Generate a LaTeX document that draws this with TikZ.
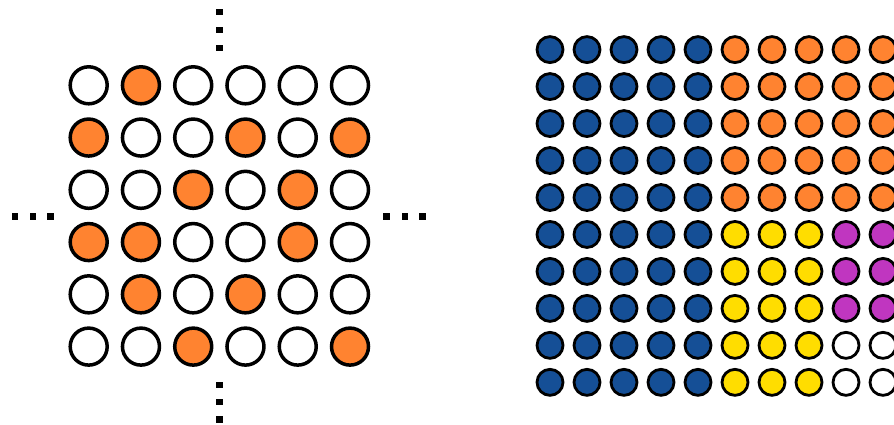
\documentclass[tikz,border=0pt]{standalone}
\definecolor{dorange}{HTML}{FF8330}
\definecolor{dblue}{HTML}{154F96}
\definecolor{dyellow}{HTML}{FFDD00}
\definecolor{dmagenta}{HTML}{C036C0}
\tikzset{
  bigdot/.style={circle,draw=black,line width=3.5pt,minimum size=37pt,inner sep=0pt,fill=white},
  smalldot/.style={circle,draw=black,line width=2.8pt,minimum size=26pt,inner sep=0pt,fill=white},
  ellipsisdot/.style={rectangle,fill=black,minimum size=6.5pt,inner sep=0pt}
}
\begin{document}
\begin{tikzpicture}[x=1pt,y=-1pt]
\useasboundingbox (0,0) rectangle (894,425);
\clip (0,0) rectangle (894,425);
% left grid
\foreach \r/\row in {1/{0,1,0,0,0,0},2/{1,0,0,1,0,1},3/{0,0,1,0,1,0},4/{1,1,0,0,1,0},5/{0,1,0,1,0,0},6/{0,0,1,0,0,1}}{
  \foreach \v [count=\c] in \row {
    \ifnum\v=1
      \node[bigdot,fill=dorange] (L-\r-\c) at ({88.7+52.26*(\c-1)},{85.3+52.26*(\r-1)}) {};
    \else
      \node[bigdot] (L-\r-\c) at ({88.7+52.26*(\c-1)},{85.3+52.26*(\r-1)}) {};
    \fi
  }
}
% ellipses
\foreach \i/\y in {1/12,2/30,3/48} \node[ellipsisdot] (T\i) at (219.3,\y) {};
\foreach \i/\y in {1/385,2/402,3/419.5} \node[ellipsisdot] (B\i) at (219.3,\y) {};
\foreach \i/\x in {1/15,2/32.8,3/50.7} \node[ellipsisdot] (W\i) at (\x,216.5) {};
\foreach \i/\x in {1/386.7,2/405,3/422.7} \node[ellipsisdot] (E\i) at (\x,216.5) {};
% right grid
\foreach \r in {1,...,10}{
  \foreach \c in {1,...,10}{
    \ifnum\c<6 \def\col{dblue}\else
      \ifnum\r<6 \def\col{dorange}\else
        \ifnum\c<9 \def\col{dyellow}\else
          \ifnum\r<9 \def\col{dmagenta}\else \def\col{white}\fi
        \fi
      \fi
    \fi
    \node[smalldot,fill=\col] (R-\r-\c) at ({550+37*(\c-1)},{49.6+36.97*(\r-1)}) {};
  }
}
\end{tikzpicture}
\end{document}
